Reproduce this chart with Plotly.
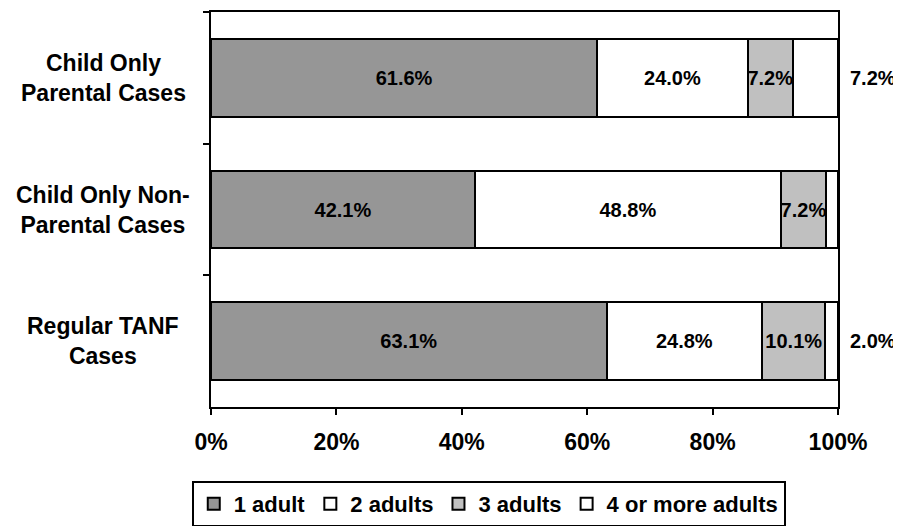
import plotly.graph_objects as go

categories = ["Child Only<br>Parental Cases", "Child Only Non-<br>Parental Cases", "Regular TANF<br>Cases"]
series_names = ["1 adult", "2 adults", "3 adults", "4 or more adults"]
one_adult = [61.6, 42.1, 63.1]
two_adults = [24.0, 48.8, 24.8]
three_adults = [7.2, 7.2, 10.1]
four_plus = [7.2, 1.9, 2.0]
x_ticks = [0, 20, 40, 60, 80, 100]

colors = ["#969696", "#ffffff", "#c0c0c0", "#ffffff"]
series = [one_adult, two_adults, three_adults, four_plus]

FONT = "Liberation Sans"

fig = go.Figure()
for i, (name, vals) in enumerate(zip(series_names, series)):
    inside = i < 3
    fig.add_trace(go.Bar(
        y=categories, x=vals, name=name, orientation="h",
        marker=dict(color=colors[i], line=dict(color="black", width=2)),
        text=[f"{v:.1f}%" for v in vals] if inside else None,
        textposition="inside" if inside else "none",
        insidetextanchor="middle",
        textangle=0,
        constraintext="none",
        textfont=dict(family=FONT, size=20, color="black", weight="bold"),
        cliponaxis=False,
        hoverinfo="skip",
    ))

# outside labels for the last segment
totals = [a + b + c + d for a, b, c, d in zip(*series)]
for cat, tot, v in zip(categories, totals, four_plus):
    fig.add_annotation(x=tot, y=cat, xref="x", yref="y", text=f"{v:.1f}%",
                       showarrow=False, xanchor="left", xshift=10,
                       font=dict(family=FONT, size=20, color="black", weight="bold"))

# category labels (centered lines)
for cat in categories:
    fig.add_annotation(x=-0.172, y=cat, xref="paper", yref="y", text=cat,
                       showarrow=False, xanchor="center", align="center",
                       font=dict(family=FONT, size=23, color="black", weight="bold"))

fig.update_layout(
    barmode="stack",
    bargap=0.41,
    width=893, height=518,
    margin=dict(l=203, r=63, t=4, b=119, autoexpand=False),
    paper_bgcolor="white", plot_bgcolor="white",
    font=dict(family=FONT, color="black"),
    legend=dict(
        orientation="h", x=0.443, xanchor="center",
        yref="container", y=0.087, yanchor="top",
        bordercolor="black", borderwidth=2, bgcolor="white",
        font=dict(family=FONT, size=22, color="black", weight="bold"),
        itemwidth=30, traceorder="normal",
    ),
    xaxis=dict(
        range=[0, 100], tickvals=x_ticks, ticktext=[f"{t}%" for t in x_ticks],
        showgrid=False, zeroline=False, showline=True, linecolor="black", linewidth=2,
        mirror=True, ticks="outside", ticklen=6, tickwidth=2, tickcolor="black",
        tickfont=dict(family=FONT, size=23, color="black", weight="bold"),
        ticklabelstandoff=7,
    ),
    yaxis=dict(
        autorange="reversed", showticklabels=False,
        showgrid=False, zeroline=False, showline=True, linecolor="black", linewidth=2,
        mirror=True, ticks="outside", ticklen=6, tickwidth=2, tickcolor="black",
        tickson="boundaries",
    ),
)

fig.write_html("out.html")
